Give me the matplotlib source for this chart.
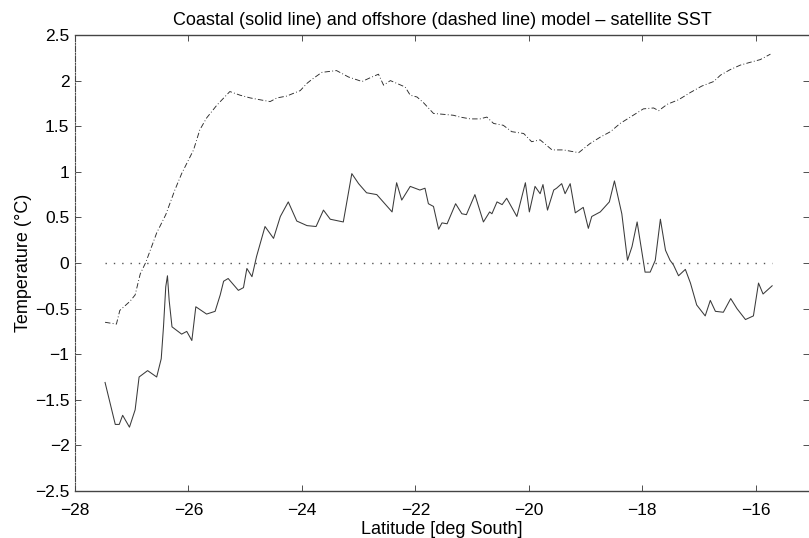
import matplotlib
matplotlib.use("Agg")
import matplotlib.pyplot as plt
from matplotlib.ticker import FuncFormatter

plt.rcParams['font.family'] = ['Liberation Sans', 'DejaVu Sans']

# coastal (solid line): model - satellite SST
lat_coast = [-27.47, -27.38, -27.29, -27.22, -27.16, -27.04, -26.94, -26.87, -26.72, -26.56,
             -26.48, -26.44, -26.40, -26.37, -26.34, -26.29, -26.12, -26.03, -25.94, -25.87,
             -25.68, -25.53, -25.44, -25.38, -25.30, -25.12, -25.03, -24.97, -24.88, -24.80,
             -24.65, -24.50, -24.38, -24.24, -24.09, -23.91, -23.75, -23.62, -23.50, -23.27,
             -23.12, -23.00, -22.86, -22.68, -22.41, -22.33, -22.24, -22.09, -21.92, -21.83,
             -21.77, -21.68, -21.59, -21.53, -21.44, -21.29, -21.18, -21.10, -20.95, -20.80,
             -20.69, -20.65, -20.56, -20.47, -20.39, -20.21, -20.06, -19.99, -19.89, -19.80,
             -19.75, -19.67, -19.56, -19.51, -19.42, -19.36, -19.27, -19.18, -19.04, -18.95,
             -18.89, -18.74, -18.58, -18.49, -18.36, -18.26, -18.18, -18.09, -17.95, -17.86,
             -17.77, -17.68, -17.59, -17.51, -17.45, -17.36, -17.24, -17.15, -17.04, -16.89,
             -16.80, -16.71, -16.57, -16.44, -16.33, -16.18, -16.04, -15.95, -15.87, -15.71]
sst_coast = [-1.31, -1.54, -1.77, -1.77, -1.67, -1.80, -1.61, -1.25, -1.18, -1.25,
             -1.05, -0.70, -0.26, -0.14, -0.41, -0.70, -0.78, -0.75, -0.85, -0.48,
             -0.56, -0.53, -0.35, -0.20, -0.17, -0.30, -0.27, -0.06, -0.15, 0.07,
             0.40, 0.27, 0.51, 0.67, 0.46, 0.41, 0.40, 0.58, 0.48, 0.45,
             0.98, 0.87, 0.77, 0.75, 0.56, 0.88, 0.69, 0.84, 0.80, 0.82,
             0.65, 0.62, 0.37, 0.44, 0.43, 0.65, 0.54, 0.53, 0.75, 0.45,
             0.56, 0.54, 0.67, 0.64, 0.71, 0.51, 0.88, 0.56, 0.84, 0.76,
             0.86, 0.58, 0.80, 0.82, 0.87, 0.76, 0.87, 0.55, 0.61, 0.38,
             0.51, 0.56, 0.67, 0.90, 0.54, 0.03, 0.18, 0.45, -0.10, -0.10,
             0.03, 0.48, 0.14, 0.03, -0.02, -0.14, -0.07, -0.22, -0.46, -0.58,
             -0.41, -0.53, -0.54, -0.39, -0.50, -0.62, -0.58, -0.22, -0.34, -0.25]

# offshore (dashed line)
lat_off = [-27.47, -27.27, -27.21, -27.03, -26.94, -26.85, -26.75, -26.56, -26.40, -26.24,
           -26.12, -25.91, -25.80, -25.68, -25.50, -25.27, -25.09, -24.91, -24.74, -24.56,
           -24.44, -24.27, -24.03, -23.91, -23.83, -23.65, -23.39, -23.18, -22.94, -22.80,
           -22.65, -22.56, -22.44, -22.18, -22.09, -21.97, -21.86, -21.68, -21.50, -21.33,
           -21.21, -21.03, -20.86, -20.74, -20.62, -20.45, -20.30, -20.09, -19.95, -19.80,
           -19.59, -19.39, -19.12, -18.92, -18.74, -18.56, -18.39, -18.21, -17.98, -17.80,
           -17.71, -17.56, -17.36, -17.15, -16.95, -16.74, -16.62, -16.45, -16.27, -16.10,
           -15.92, -15.74]
sst_off = [-0.65, -0.67, -0.52, -0.42, -0.35, -0.12, 0.01, 0.33, 0.53, 0.80,
           0.98, 1.24, 1.46, 1.59, 1.73, 1.88, 1.84, 1.81, 1.79, 1.77,
           1.81, 1.83, 1.89, 1.97, 2.01, 2.09, 2.11, 2.04, 1.99, 2.03,
           2.07, 1.95, 2.00, 1.93, 1.84, 1.82, 1.76, 1.64, 1.63, 1.62,
           1.60, 1.58, 1.58, 1.60, 1.53, 1.51, 1.44, 1.42, 1.33, 1.35,
           1.24, 1.24, 1.21, 1.31, 1.38, 1.44, 1.53, 1.60, 1.69, 1.70,
           1.67, 1.74, 1.79, 1.87, 1.94, 1.99, 2.06, 2.12, 2.17, 2.20,
           2.23, 2.29]

xticks = [-28, -26, -24, -22, -20, -18, -16]
yticks = [-2.5, -2, -1.5, -1, -0.5, 0, 0.5, 1, 1.5, 2, 2.5]

fig = plt.figure(figsize=(8.09, 5.38), dpi=100)
ax = fig.add_axes([75/809, 47/538, 734/809, 456/538])

ax.plot([lat_coast[0], lat_coast[-1]], [0, 0], color='#555555', lw=1.0,
        linestyle=(0, (1, 5)))
ax.plot(lat_off, sst_off, color='#2a2a2a', lw=0.65, linestyle=(0, (6, 2.5, 1, 2.5)))
ax.plot(lat_coast, sst_coast, color='#3a3a3a', lw=0.75)

ax.set_xlim(-28, -15.06)
ax.set_ylim(-2.5, 2.5)
ax.set_xticks(xticks)
ax.set_yticks(yticks)
fmt = FuncFormatter(lambda v, p: ('%g' % v).replace('-', '\u2212'))
ax.xaxis.set_major_formatter(fmt)
ax.yaxis.set_major_formatter(fmt)
ax.tick_params(direction='in', length=4, width=0.6, labelsize=12.5,
               top=True, right=True, color='#333333')
ax.tick_params(axis='x', pad=8.5)
ax.tick_params(axis='y', pad=4)

for s in ['top', 'bottom']:
    ax.spines[s].set_color('#444444')
    ax.spines[s].set_linewidth(1.0)
ax.spines['right'].set_visible(False)
ax.spines['left'].set_color('#444444')
ax.spines['left'].set_linewidth(0.8)
ax.spines['left'].set_linestyle((0, (5, 1.5, 1, 1.5)))

ax.set_title('Coastal (solid line) and offshore (dashed line) model \u2013 satellite SST',
             fontsize=13, pad=7)
ax.set_xlabel('Latitude [deg South]', fontsize=13, labelpad=2)
ax.set_ylabel('Temperature (\u00b0C)', fontsize=13, labelpad=2)

fig.savefig('out.png', dpi=100)
